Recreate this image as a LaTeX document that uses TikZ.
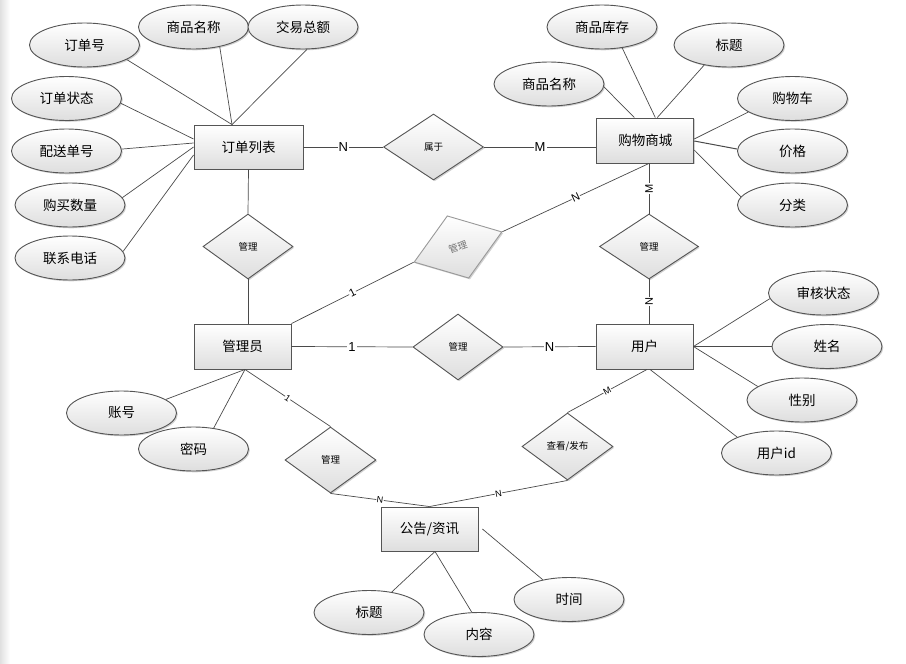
\documentclass[tikz,border=0pt]{standalone}
\usepackage{fontspec}
\setmainfont{Noto Sans CJK SC}
\newfontfamily\lat{Liberation Sans}
\usetikzlibrary{shapes.geometric,shadows}
\definecolor{bordc}{HTML}{555555}
\definecolor{linec}{HTML}{4A4A4A}
\definecolor{shadeb}{HTML}{DEDEDE}
\tikzset{
  shp/.style={draw=bordc, line width=0.9pt, inner sep=0pt, top color=white, bottom color=shadeb,
    drop shadow={shadow xshift=1.3pt, shadow yshift=-1.3pt, opacity=0.18, fill=black}},
  attr/.style={shp, ellipse, minimum width=110pt, minimum height=44pt, font=\fontsize{13.5}{14}\selectfont},
  ent/.style={shp, rectangle, minimum width=97pt, minimum height=45pt, font=\fontsize{13.5}{14}\selectfont},
  rel/.style={shp, diamond, font=\fontsize{9.5}{10}\selectfont},
  conn/.style={draw=linec, line width=0.7pt},
  card/.style={fill=white, inner sep=1pt, font=\lat\fontsize{13}{13}\selectfont},
  cardm/.style={fill=white, inner sep=0.5pt, font=\lat\fontsize{11}{11}\selectfont},
  cards/.style={fill=white, inner sep=0.5pt, font=\lat\fontsize{9}{9}\selectfont, sloped},
}
\begin{document}
\begin{tikzpicture}[x=1pt,y=-1pt]
\useasboundingbox (0,0) rectangle (906,664);
\fill[white] (0,0) rectangle (906,664);
\shade[left color=black!12, right color=white] (0,0) rectangle (10,664);

% entities
\node[ent, minimum width=109pt, minimum height=44pt] (ol) at (248.5,147) {订单列表};
\node[ent] (sc) at (645.3,140.5) {购物商城};
\node[ent] (gly) at (242.5,346.5) {管理员};
\node[ent] (yh) at (644.5,346.5) {用户};
\node[ent, minimum height=44pt] (gg) at (429.5,529) {公告/资讯};

% relationships
\node[rel, minimum width=100pt, minimum height=66pt] (r1) at (433.5,147) {属于};
\node[rel, minimum width=90pt, minimum height=65pt] (r2) at (248,246.5) {管理};
\node[rel, minimum width=93pt, minimum height=66pt, rotate=19, draw=black!40, text=black!55] (r3) at (458,247) {管理};
\node[rel, minimum width=99pt, minimum height=65pt] (r4) at (649,246.5) {管理};
\node[rel, minimum width=90pt, minimum height=66pt] (r5) at (458,347) {管理};
\node[rel, minimum width=91pt, minimum height=66pt] (r6) at (330.5,460) {管理};
\node[rel, minimum width=91pt, minimum height=67pt] (r7) at (567.5,446.5) {查看/发布};

% attributes of 订单列表
\node[attr] (a1) at (84.5,45) {订单号};
\node[attr] (a2) at (193.5,27) {商品名称};
\node[attr] (a3) at (303,27) {交易总额};
\node[attr] (a4) at (66.5,98.5) {订单状态};
\node[attr] (a5) at (66.5,151) {配送单号};
\node[attr] (a6) at (70,205) {购买数量};
\node[attr] (a7) at (70,258) {联系电话};

% attributes of 购物商城
\node[attr] (b1) at (549,84) {商品名称};
\node[attr] (b2) at (602,27) {商品库存};
\node[attr] (b3) at (729,45) {标题};
\node[attr] (b4) at (792.5,98.5) {购物车};
\node[attr] (b5) at (792.5,151) {价格};
\node[attr] (b6) at (792.5,205) {分类};

% attributes of 用户
\node[attr] (c1) at (823.5,293) {审核状态};
\node[attr] (c2) at (827,346.5) {姓名};
\node[attr] (c3) at (802,400) {性别};
\node[attr] (c4) at (776.5,453) {用户id};

% attributes of 管理员
\node[attr] (d1) at (121.5,413) {账号};
\node[attr] (d2) at (193.5,449) {密码};

% attributes of 公告/资讯
\node[attr] (e1) at (369,612.5) {标题};
\node[attr] (e2) at (479,634.5) {内容};
\node[attr] (e3) at (569,599.5) {时间};

% attribute connectors
\draw[conn] (a1.-19) -- ([xshift=-16.5pt]ol.north);
\draw[conn] (a2.-37) -- ([xshift=-16.5pt]ol.north);
\draw[conn] (a3.-80) -- ([xshift=-16.5pt]ol.north);
\draw[conn] (a4.-5) -- ([yshift=8pt]ol.west);
\draw[conn] (a5.2) -- ([yshift=4pt]ol.west);
\draw[conn] (a6.8) -- ([yshift=0pt]ol.west);
\draw[conn] (a7.7) -- ([yshift=-8pt]ol.west);

\draw[conn] (b1.-3) -- ([xshift=-11pt]sc.north);
\draw[conn] (b2.-46) -- ([xshift=10pt]sc.north);
\draw[conn] (b3.-141) -- ([xshift=12pt]sc.north);
\draw[conn] (b4.-163) -- ([yshift=1.5pt]sc.east);
\draw[conn, line width=1pt] (b5.178) -- ([yshift=-0.5pt]sc.east);
\draw[conn] (b6.171) -- ([yshift=-9.5pt]sc.east);

\draw[conn] (c1.-174) -- (yh.east);
\draw[conn] (c2.180) -- (yh.east);
\draw[conn] (c3.163) -- (yh.east);
\draw[conn] (c4.158) -- ([xshift=5.5pt]yh.south);

\draw[conn] (d1.17) -- ([xshift=2.5pt]gly.south);
\draw[conn] (d2.46) -- ([xshift=2.5pt]gly.south);

\draw[conn] (e1.42) -- ([xshift=5.5pt]gg.south);
\draw[conn] (e2.108) -- ([xshift=5.5pt]gg.south);
\draw[conn] (e3.143) -- ([xshift=4pt]gg.east);

% relationship connectors
\draw[conn] (ol.east) -- node[card] {N} (r1.west);
\draw[conn] (r1.east) -- node[card] {M} (r1.east -| sc.west);
\draw[conn] (ol.south) -- (r2.north);
\draw[conn] (r2.south) -- (r2.south |- gly.north);
\draw[conn] (gly.north east) -- node[cardm, sloped] {1} (r3.west);
\draw[conn] (r3.east) -- node[cardm, sloped] {N} (r4.north |- sc.south);
\draw[conn] (r4.north |- sc.south) -- node[cardm, rotate=90] {M} (r4.north);
\draw[conn] (r4.south) -- node[cardm, rotate=90] {N} (r4.south |- yh.north);
\draw[conn] (gly.east) -- node[card] {1} (r5.west);
\draw[conn] (r5.east) -- node[card] {N} (yh.west);
\draw[conn] ([xshift=2.5pt]gly.south) -- node[cards] {1} (r6.north);
\draw[conn] (r6.south) -- node[cards] {N} (gg.north);
\draw[conn] ([xshift=2.5pt]yh.south) -- node[cards] {M} (r7.north);
\draw[conn] (r7.south) -- node[cards] {N} (gg.north);
\end{tikzpicture}
\end{document}
